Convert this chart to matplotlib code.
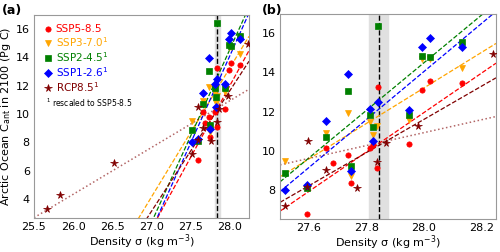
import matplotlib.pyplot as plt
import numpy as np

# model densities / Cant values
x_585 = [27.594, 27.66, 27.684, 27.737, 27.747, 27.813, 27.823, 27.838, 27.84, 27.949, 27.994, 28.02, 28.133]
y_585 = [6.73, 10.15, 9.37, 9.77, 8.35, 10.12, 10.3, 9.11, 13.27, 10.33, 13.11, 13.57, 13.47]

x_370 = [27.517, 27.66, 27.737, 27.747, 27.813, 27.823, 27.838, 27.949, 27.994, 28.02, 28.133]
y_370 = [9.47, 10.9, 11.9, 8.7, 11.45, 10.78, 11.25, 11.55, 14.7, 14.7, 14.23]

x_245 = [27.517, 27.594, 27.66, 27.737, 27.747, 27.813, 27.823, 27.84, 27.949, 27.994, 28.02, 28.133]
y_245 = [8.86, 8.1, 10.7, 13.06, 9.22, 11.8, 11.2, 16.4, 11.8, 14.84, 14.8, 15.54]

x_126 = [27.517, 27.594, 27.66, 27.737, 27.747, 27.813, 27.823, 27.84, 27.949, 27.994, 28.02, 28.133]
y_126 = [8.0, 8.25, 11.5, 13.92, 8.96, 12.15, 10.5, 12.5, 12.1, 15.29, 15.75, 15.29]

x_rcp = [25.67, 25.83, 26.52, 27.517, 27.594, 27.597, 27.66, 27.768, 27.838, 27.869, 27.98, 28.24]
y_rcp = [3.3, 4.3, 6.55, 7.19, 8.15, 10.48, 9.0, 8.1, 9.42, 10.38, 11.25, 14.94]

# fitted lines: value at sigma=27.5 and slope
fit_585 = (6.9, 10.1)
fit_370 = (8.66, 9.1)
fit_245 = (8.4, 12.2)
fit_126 = (7.9, 12.3)
fit_rcp = (7.35, 8.5)
fit_rcp_all = (9.27, 3.3)

obs_sigma = 27.843
obs_lo, obs_hi = 27.81, 27.875

series = [
    (x_585, y_585, fit_585, 'red', 'o', 'SSP5-8.5'),
    (x_370, y_370, fit_370, 'orange', 'v', 'SSP3-7.0$^1$'),
    (x_245, y_245, fit_245, 'green', 's', 'SSP2-4.5$^1$'),
    (x_126, y_126, fit_126, 'blue', 'D', 'SSP1-2.6$^1$'),
    (x_rcp, y_rcp, fit_rcp, 'maroon', '*', 'RCP8.5$^1$'),
]

plt.rcParams['font.size'] = 8

fig = plt.figure(figsize=(5, 2.52), dpi=100)
ax1 = fig.add_axes([0.068, 0.135, 0.43, 0.806])
ax2 = fig.add_axes([0.56, 0.131, 0.432, 0.814])


def draw(ax, xlim, ylim):
    xx = np.array(xlim)
    ax.axvspan(obs_lo, obs_hi, color='0.88', zorder=0)
    ax.axvline(obs_sigma, color='k', ls='--', lw=1, zorder=1)
    for x, y, fit, c, m, lab in series:
        ms = 5.5 if m == '*' else 3.8
        ax.plot(x, y, m, color=c, ms=ms, mec=c, mew=0.5, label=lab, zorder=3)
        ax.plot(xx, fit[0] + fit[1] * (xx - 27.5), '--', color=c, lw=0.9, zorder=2)
    ax.plot(xx, fit_rcp_all[0] + fit_rcp_all[1] * (xx - 27.5), ':', color='maroon',
            lw=1.1, alpha=0.6, zorder=2)
    ax.set_xlim(xlim)
    ax.set_ylim(ylim)
    ax.set_xlabel('Density σ (kg m$^{-3}$)', labelpad=0)
    for s in ax.spines.values():
        s.set_color('0.6')
    ax.tick_params(length=0, pad=3)


draw(ax1, (25.5, 28.25), (2.65, 17.0))
ax1.set_xticks([25.5, 26.0, 26.5, 27.0, 27.5, 28.0])
ax1.set_yticks([4, 6, 8, 10, 12, 14, 16])
ax1.set_ylabel('Arctic Ocean C$_{\\rm ant}$ in 2100 (Pg C)', labelpad=2)
leg = ax1.legend(loc='upper left', bbox_to_anchor=(0.0, 0.995), frameon=False,
                 fontsize=7.5, handletextpad=0.3, borderaxespad=0.4,
                 labelspacing=0.1, handlelength=1.0)
for t, s in zip(leg.get_texts(), series):
    t.set_color(s[3])
ax1.text(0.055, 0.565, '$^1$ rescaled to SSP5-8.5', transform=ax1.transAxes,
         fontsize=5.5, va='center')

draw(ax2, (27.5, 28.25), (6.5, 17.0))
ax2.set_xticks([27.6, 27.8, 28.0, 28.2])
ax2.set_yticks([8, 10, 12, 14, 16])

fig.text(0.004, 0.945, '(a)', fontweight='bold', fontsize=9)
fig.text(0.524, 0.945, '(b)', fontweight='bold', fontsize=9)

plt.savefig('out.png', dpi=100)
